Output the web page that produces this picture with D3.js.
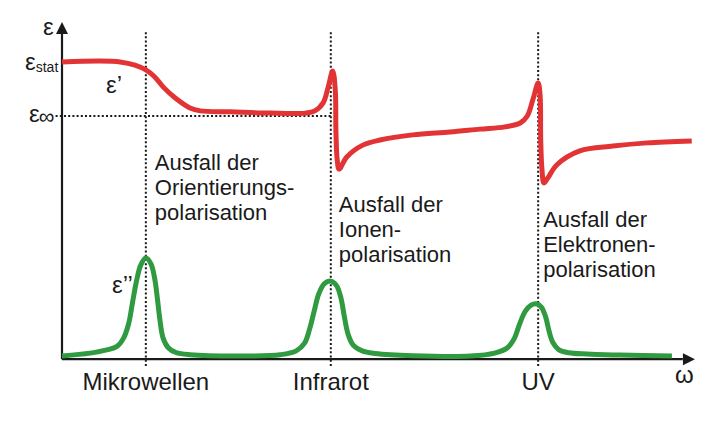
<!DOCTYPE html>
<html>
<head>
<meta charset="utf-8">
<script src="https://cdn.jsdelivr.net/npm/d3@7"></script>
<style>
  body { margin: 0; background: #fff; }
  text { font-family: "Liberation Sans", Arial, sans-serif; fill: #1a1a1a; }
</style>
</head>
<body>
<svg></svg>
<script>
// real part eps' : [omega, eps]
const epsReal = [
  [0, 91.9], [5.9, 92.2], [9.1, 91.9], [11.4, 90.9], [13.1, 89.4], [14.5, 87.2],
  [15.8, 84.1], [17.7, 80.6], [20.0, 77.5], [21.6, 76.6], [26.3, 76.3], [32.5, 75.9],
  [38.0, 75.9], [39.5, 76.6], [40.8, 79.1], [41.6, 84.1], [42.3, 89.1], [42.7, 83.1],
  [42.8, 70.6], [43.0, 61.3], [43.3, 58.4], [44.5, 62.2], [47.0, 65.9], [49.7, 67.5],
  [54.8, 69.1], [60.6, 70.0], [65.3, 70.9], [69.2, 71.6], [71.6, 72.8], [72.7, 75.0],
  [73.6, 80.3], [74.4, 85.3], [74.7, 81.6], [74.8, 67.5], [75.0, 58.1], [75.3, 54.1],
  [75.9, 55.6], [77.3, 59.7], [80.9, 64.1], [86.1, 65.6], [91.4, 66.6], [98.4, 67.2]
];

// imaginary part eps'' : [omega, eps]
const epsImag = [
  [0, 0], [4.4, 0.9], [7.0, 1.9], [8.6, 3.0], [9.6, 5.5], [10.4, 10.0], [11.0, 16.5],
  [11.6, 23.0], [12.3, 28.4], [13.1, 30.6], [13.9, 28.8], [14.5, 24.0], [14.9, 18.0],
  [15.3, 11.3], [15.8, 5.6], [16.6, 2.6], [17.8, 1.1], [20.0, 0.4], [29.4, 0],
  [34.1, 0.4], [36.6, 1.6], [37.9, 4.0], [38.7, 8.5], [39.4, 14.0], [40.1, 19.3],
  [41.0, 22.6], [42.0, 23.4], [42.9, 22.0], [43.6, 18.0], [44.1, 12.5], [44.7, 6.8],
  [45.5, 3.4], [46.9, 1.6], [49.0, 0.8], [54.8, 0.1], [63.8, 0], [67.6, 0.9],
  [69.6, 2.6], [70.7, 5.6], [71.5, 10.0], [72.4, 14.0], [73.3, 15.9], [74.1, 16.3],
  [74.9, 15.3], [75.6, 12.0], [76.1, 7.8], [76.7, 4.2], [77.6, 2.0], [79.2, 1.0],
  [82.0, 0.6], [87.2, 0.3], [95.3, 0]
];

const resonances = [13.1, 42.0, 74.4];
const bandLabels = ['Mikrowellen', 'Infrarot', 'UV'];
const ausfallText = [
  ['Ausfall der', 'Orientierungs-', 'polarisation'],
  ['Ausfall der', 'Ionen-', 'polarisation'],
  ['Ausfall der', 'Elektronen-', 'polarisation']
];
const epsStat = 91.9;
const epsInf = 75.0;

const w = 724;
const h = 423;
const svg = d3.select('svg').attr('width', w).attr('height', h);

const x = d3.scaleLinear().domain([0, 100]).range([62, 702]);
const y = d3.scaleLinear().domain([0, 100]).range([356, 36]);

const axisY = y(-1);

// dotted guides
svg.selectAll('line.guide')
  .data(resonances)
  .enter()
  .append('line')
  .attr('x1', (d) => x(d)).attr('x2', (d) => x(d))
  .attr('y1', y(101.2)).attr('y2', y(-3.8))
  .attr('stroke', '#1a1a1a').attr('stroke-width', 2)
  .attr('stroke-dasharray', '2,2.2');

svg.append('line')
  .attr('x1', x(-1)).attr('x2', x(resonances[1]))
  .attr('y1', y(epsInf)).attr('y2', y(epsInf))
  .attr('stroke', '#1a1a1a').attr('stroke-width', 2)
  .attr('stroke-dasharray', '2,2.2');

// axes
svg.append('line')
  .attr('x1', x(0)).attr('x2', x(0))
  .attr('y1', axisY).attr('y2', y(101))
  .attr('stroke', '#1a1a1a').attr('stroke-width', 2.2);
svg.append('line')
  .attr('x1', x(0)).attr('x2', x(97))
  .attr('y1', axisY).attr('y2', axisY)
  .attr('stroke', '#1a1a1a').attr('stroke-width', 2.2);

const tipY = y(104.4);
svg.append('path')
  .attr('d', `M${x(0)},${tipY} L${x(0) - 6},${tipY + 12} L${x(0) + 6},${tipY + 12} Z`)
  .attr('fill', '#1a1a1a');
const tipX = x(98.9);
svg.append('path')
  .attr('d', `M${tipX},${axisY} L${tipX - 12},${axisY - 6} L${tipX - 12},${axisY + 6} Z`)
  .attr('fill', '#1a1a1a');

// curves
const line = d3.line()
  .x((d) => x(d[0]))
  .y((d) => y(d[1]))
  .curve(d3.curveCatmullRom.alpha(0.5));

svg.append('path')
  .datum(epsImag)
  .attr('d', line)
  .attr('fill', 'none')
  .attr('stroke', '#2f9a3f')
  .attr('stroke-width', 5)
  .attr('stroke-linejoin', 'round');

svg.append('path')
  .datum(epsReal)
  .attr('d', line)
  .attr('fill', 'none')
  .attr('stroke', '#e23434')
  .attr('stroke-width', 5)
  .attr('stroke-linejoin', 'round');

// labels on the axes
svg.append('text').attr('x', 43).attr('y', 35).attr('font-size', 24).text('ε');
svg.append('text').attr('x', 25).attr('y', 70)
  .call((t) => {
    t.append('tspan').attr('font-size', 24).text('ε');
    t.append('tspan').attr('font-size', 14).attr('dy', 2).text('stat');
  });
svg.append('text').attr('x', 29).attr('y', 122)
  .call((t) => {
    t.append('tspan').attr('font-size', 24).text('ε');
    t.append('tspan').attr('font-size', 22).attr('dx', -1).attr('dy', 2).text('∞');
  });
svg.append('text').attr('x', 106).attr('y', 93).attr('font-size', 24).text('ε’');
svg.append('text').attr('x', 112).attr('y', 293).attr('font-size', 24).text('ε’’');
svg.append('text').attr('x', 675).attr('y', 383).attr('font-size', 24).text('ω');

svg.selectAll('text.band')
  .data(bandLabels)
  .enter()
  .append('text')
  .attr('x', (d, i) => x(resonances[i]))
  .attr('y', 390)
  .attr('text-anchor', 'middle')
  .attr('font-size', 24)
  .text((d) => d);

const blockTop = [170, 212, 227];
const blockDx = [9, 8, 5];
ausfallText.forEach((lines, i) => {
  const t = svg.append('text').attr('font-size', 22);
  lines.forEach((s, j) => {
    t.append('tspan')
      .attr('x', x(resonances[i]) + blockDx[i])
      .attr('y', blockTop[i] + j * 25)
      .text(s);
  });
});
</script>
</body>
</html>
